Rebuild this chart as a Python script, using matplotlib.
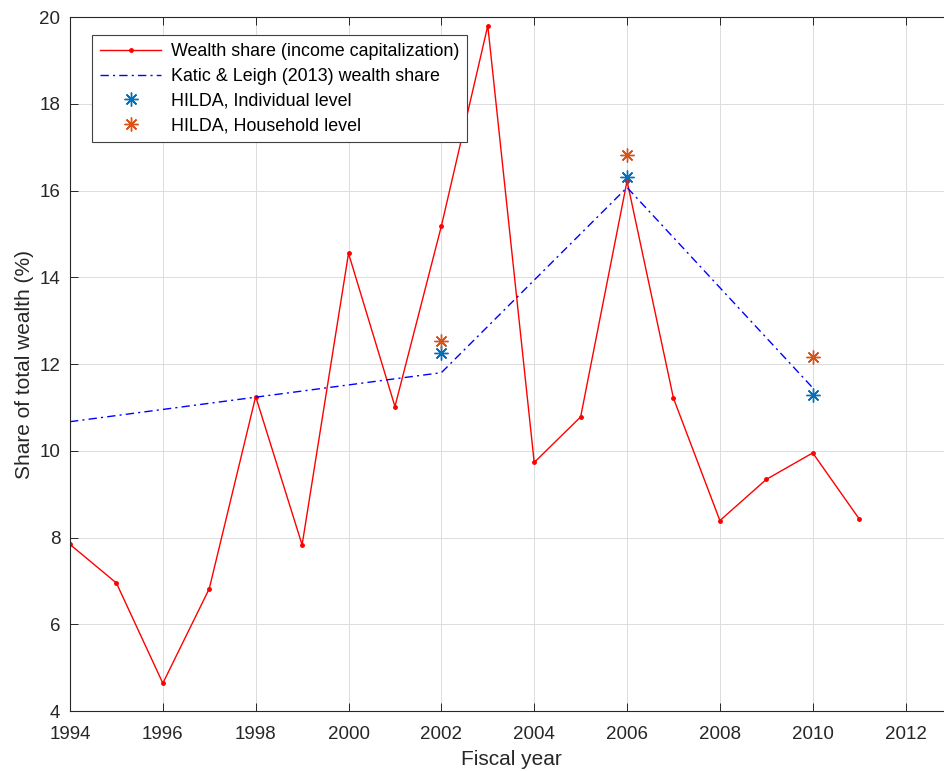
import matplotlib
matplotlib.use("Agg")
import matplotlib.pyplot as plt
from matplotlib.markers import MarkerStyle

plt.rcParams['font.family'] = ['Liberation Sans', 'DejaVu Sans']

years = [1994, 1995, 1996, 1997, 1998, 1999, 2000, 2001, 2002, 2003,
         2004, 2005, 2006, 2007, 2008, 2009, 2010, 2011]
wealth_share = [7.84, 6.95, 4.64, 6.82, 11.25, 7.83, 14.55, 11.02, 15.18, 19.8,
                9.73, 10.78, 16.22, 11.21, 8.39, 9.34, 9.95, 8.43]

kl_years = [1994, 2002, 2006, 2010]
kl_share = [10.67, 11.8, 16.07, 11.45]

hilda_years = [2002, 2006, 2010]
hilda_ind = [12.25, 16.3, 11.28]
hilda_hh = [12.53, 16.82, 12.15]

xticks = list(range(1994, 2013, 2))
yticks = list(range(4, 21, 2))

fig = plt.figure(figsize=(9.44, 7.71), dpi=100)
ax = fig.add_axes([70/944, 1-711/771, 882/944, 694/771])

ax.plot(years, wealth_share, color='#FF0000', lw=1.0, marker='.', ms=5,
        label='Wealth share (income capitalization)')
ax.plot(kl_years, kl_share, color='#0000FF', lw=1.0, dashes=(6, 3, 1.5, 3),
        label='Katic & Leigh (2013) wealth share')
ast = MarkerStyle((8, 2, 0))
ax.plot(hilda_years, hilda_ind, ls='none', marker=ast, ms=10, mew=1.0,
        color='#0072BD', label='HILDA, Individual level')
ax.plot(hilda_years, hilda_hh, ls='none', marker=ast, ms=10, mew=1.0,
        color='#D95319', label='HILDA, Household level')

ax.set_xlim(1994, 2013)
ax.set_ylim(4, 20)
ax.set_xticks(xticks)
ax.set_yticks(yticks)
ax.grid(True, color='#DCDCDC', lw=0.7)
ax.set_axisbelow(True)
ax.tick_params(direction='in', top=True, right=False, labelsize=13.5,
               colors='#262626', length=6, width=0.7)
ax.tick_params(axis='x', pad=11)
ax.tick_params(axis='y', pad=7)
for s in ax.spines.values():
    s.set_color('#262626')
    s.set_linewidth(0.8)

ax.set_xlabel('Fiscal year', fontsize=15, color='#262626', labelpad=5)
ax.set_ylabel('Share of total wealth (%)', fontsize=15, color='#262626', labelpad=4)

leg = ax.legend(loc='upper left', bbox_to_anchor=(0.025, 0.974), fontsize=12.9,
                fancybox=False, framealpha=1, edgecolor='#404040',
                borderpad=0.45, labelspacing=0.43, handlelength=3.4,
                handletextpad=0.55, borderaxespad=0)
leg.get_frame().set_linewidth(0.8)

fig.savefig('out.png', dpi=100)
